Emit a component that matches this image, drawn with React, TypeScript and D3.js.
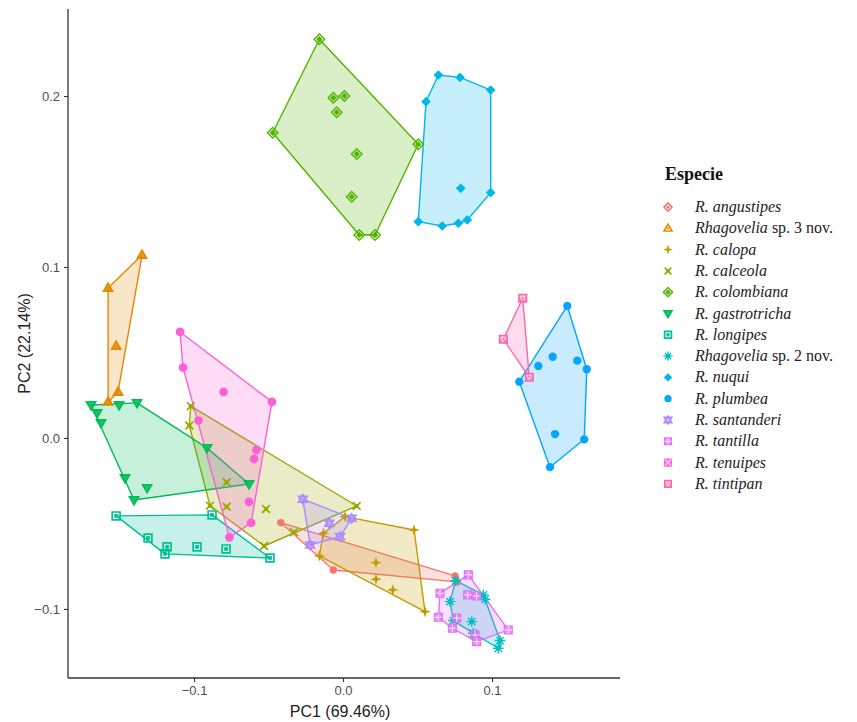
import React, { useRef, useEffect } from 'react';
import * as d3 from 'd3';

type Pt = [number, number];

// PCA scores per species
const angustipes: Pt[] = [[-0.0418, -0.0495], [-0.0065, -0.0772], [0.0752, -0.0807], [0.0765, -0.0842]];
const sp3nov: Pt[] = [[-0.1349, 0.107], [-0.1577, 0.0877], [-0.1523, 0.0538], [-0.151, 0.0269], [-0.1577, 0.0211]];
const calopa: Pt[] = [[0.0013, -0.046], [0.0477, -0.0538], [-0.0132, -0.0557], [-0.0159, -0.069], [0.0221, -0.0729], [0.0221, -0.0826], [0.0334, -0.0889], [0.055, -0.1016]];
const calceola: Pt[] = [[-0.1022, 0.0186], [-0.1032, 0.0073], [-0.0781, -0.0259], [-0.0893, -0.0396], [-0.0781, -0.0402], [-0.0517, -0.0415], [-0.053, -0.0632], [-0.0329, -0.0551], [0.0092, -0.0398]];
const colombiana: Pt[] = [[-0.0159, 0.2332], [-0.0065, 0.199], [0.0009, 0.2], [-0.0042, 0.1905], [-0.0472, 0.1785], [0.0505, 0.1718], [0.0092, 0.1661], [0.0058, 0.1411], [0.0109, 0.1187], [0.0215, 0.1187]];
const gastrotricha: Pt[] = [[-0.1691, 0.0193], [-0.1651, 0.0146], [-0.1624, 0.0088], [-0.1503, 0.0193], [-0.1383, 0.0205], [-0.1463, -0.0234], [-0.1315, -0.0292], [-0.1403, -0.0363], [-0.0913, -0.0058], [-0.0631, -0.0269]];
const longipes: Pt[] = [[-0.1523, -0.0456], [-0.0879, -0.045], [-0.1309, -0.0585], [-0.1181, -0.0637], [-0.098, -0.0637], [-0.0785, -0.0649], [-0.1195, -0.0678], [-0.049, -0.0702]];
const sp2nov: Pt[] = [[0.0756, -0.0835], [0.0718, -0.0957], [0.0942, -0.0918], [0.0953, -0.0943], [0.074, -0.1068], [0.0864, -0.1074], [0.0874, -0.1142], [0.1054, -0.1185], [0.1042, -0.123]];
const nuqui: Pt[] = [[0.064, 0.2123], [0.0785, 0.2109], [0.0991, 0.2035], [0.0557, 0.1967], [0.079, 0.146], [0.0991, 0.1435], [0.0505, 0.1265], [0.0666, 0.124], [0.0774, 0.1256], [0.0834, 0.1275]];
const plumbea: Pt[] = [[0.1505, 0.0772], [0.1407, 0.0475], [0.1572, 0.0452], [0.1311, 0.0421], [0.1636, 0.0402], [0.1183, 0.0329], [0.1423, 0.0023], [0.1619, -0.0008], [0.1389, -0.0171]];
const santanderi: Pt[] = [[-0.027, -0.0358], [0.0058, -0.047], [-0.0092, -0.0499], [-0.002, -0.0577], [-0.0221, -0.0626]];
const tantilla: Pt[] = [[0.0841, -0.0801], [0.0651, -0.0908], [0.0837, -0.0918], [0.0897, -0.0924], [0.064, -0.1049], [0.0734, -0.1113], [0.0763, -0.1054], [0.0886, -0.1152], [0.0897, -0.1191], [0.1109, -0.1123]];
const tenuipes: Pt[] = [[-0.1094, 0.062], [-0.1074, 0.0412], [-0.0802, 0.0269], [-0.0477, 0.0211], [-0.097, 0.0102], [-0.0581, -0.007], [-0.0597, -0.0123], [-0.0631, -0.0374], [-0.0617, -0.0497], [-0.0762, -0.0582]];
const tintipan: Pt[] = [[0.1206, 0.0817], [0.1076, 0.0577], [0.125, 0.0355]];

const seriesPoints: Pt[][] = [angustipes, sp3nov, calopa, calceola, colombiana, gastrotricha, longipes, sp2nov, nuqui, plumbea, santanderi, tantilla, tenuipes, tintipan];

// legend labels: [italic part, upright part]
const speciesLabels: [string, string][] = [
  ['R. angustipes', ''],
  ['Rhagovelia', ' sp. 3 nov.'],
  ['R. calopa', ''],
  ['R. calceola', ''],
  ['R. colombiana', ''],
  ['R. gastrotricha', ''],
  ['R. longipes', ''],
  ['Rhagovelia', ' sp. 2 nov.'],
  ['R. nuqui', ''],
  ['R. plumbea', ''],
  ['R. santanderi', ''],
  ['R. tantilla', ''],
  ['R. tenuipes', ''],
  ['R. tintipan', ''],
];

const speciesColors = ['#F8766D', '#E38900', '#C49A00', '#99A800', '#53B400', '#00BC56', '#00C094', '#00BFC4', '#00B6EB', '#06A4FF', '#A58AFF', '#DF70F8', '#FB61D7', '#FF66A8'];
const speciesShapes = ['diamondDot', 'triangle', 'star4', 'cross', 'diamond', 'triangleDown', 'square', 'asterisk', 'diamondFill', 'circle', 'star6', 'squarePlus', 'squareX', 'squareTri'];

const xTicks = [-0.1, 0.0, 0.1];
const yTicks = [-0.1, 0.0, 0.1, 0.2];

const W = 857;
const H = 722;
const panel = { left: 68, right: 620, top: 9, bottom: 678 };

const drawMarker = (g: any, shape: string, color: string, r: number, inPlot: boolean) => {
  const d = (p: string) => g.append('path').attr('d', p);
  const tri = (s: number, dir: number) => `M0,${-s * dir}L${s * 0.95},${s * 0.65 * dir}L${-s * 0.95},${s * 0.65 * dir}Z`;
  const sq = (s: number) => `M${-s},${-s}H${s}V${s}H${-s}Z`;
  const dia = (s: number) => `M0,${-s}L${s},0L0,${s}L${-s},0Z`;
  switch (shape) {
    case 'diamondDot':
      if (inPlot) {
        g.append('circle').attr('r', r * 0.8).attr('fill', color);
      } else {
        d(dia(r)).attr('fill', 'none').attr('stroke', color).attr('stroke-width', 1.6);
        g.append('circle').attr('r', r * 0.4).attr('fill', color);
      }
      break;
    case 'triangle':
      d(tri(r * 1.05, 1)).attr('fill', inPlot ? color : 'none').attr('fill-opacity', 0.85).attr('stroke', color).attr('stroke-width', 1.6);
      if (!inPlot) d(tri(r * 0.4, 1)).attr('fill', color);
      break;
    case 'triangleDown':
      d(tri(r * 1.05, -1)).attr('fill', color).attr('fill-opacity', 0.85).attr('stroke', color).attr('stroke-width', 1.6);
      break;
    case 'star4': {
      const k = r * 0.3;
      const s = r * 1.25;
      d(`M0,${-s}L${k},${-k}L${s},0L${k},${k}L0,${s}L${-k},${k}L${-s},0L${-k},${-k}Z`).attr('fill', color);
      break;
    }
    case 'cross':
      d(`M${-r * 0.85},${-r * 0.85}L${r * 0.85},${r * 0.85}M${r * 0.85},${-r * 0.85}L${-r * 0.85},${r * 0.85}`).attr('stroke', color).attr('stroke-width', 1.7);
      d(dia(r * 0.55)).attr('fill', color);
      break;
    case 'diamond':
      d(dia(r * 1.15)).attr('fill', 'none').attr('stroke', color).attr('stroke-width', 1.4);
      d(dia(r * 0.7)).attr('fill', color);
      break;
    case 'square':
      d(sq(r * 0.85)).attr('fill', 'none').attr('stroke', color).attr('stroke-width', 1.7);
      d(sq(r * 0.4)).attr('fill', color);
      break;
    case 'asterisk':
      d(`M0,${-r * 1.15}V${r * 1.15}M${-r * 1.15},0H${r * 1.15}M${-r * 0.8},${-r * 0.8}L${r * 0.8},${r * 0.8}M${r * 0.8},${-r * 0.8}L${-r * 0.8},${r * 0.8}`).attr('stroke', color).attr('stroke-width', 1.4);
      g.append('circle').attr('r', r * 0.55).attr('fill', color);
      break;
    case 'diamondFill':
      d(dia(r * 1.05)).attr('fill', color);
      break;
    case 'circle':
      g.append('circle').attr('r', r * 0.9).attr('fill', color);
      break;
    case 'star6':
      d(tri(r * 1.05, 1)).attr('fill', color).attr('fill-opacity', 0.35).attr('stroke', color).attr('stroke-width', 1.3);
      d(tri(r * 1.05, -1)).attr('fill', color).attr('fill-opacity', 0.35).attr('stroke', color).attr('stroke-width', 1.3);
      break;
    case 'squarePlus':
      d(sq(r * 0.85)).attr('fill', color).attr('fill-opacity', 0.75).attr('stroke', color).attr('stroke-width', 1.3);
      d(`M0,${-r * 0.85}V${r * 0.85}M${-r * 0.85},0H${r * 0.85}`).attr('stroke', '#fff').attr('stroke-width', 0.8);
      break;
    case 'squareX':
      if (inPlot) {
        g.append('circle').attr('r', r * 0.95).attr('fill', color);
      } else {
        d(sq(r * 0.85)).attr('fill', color).attr('fill-opacity', 0.8).attr('stroke', color).attr('stroke-width', 1.3);
        d(`M${-r * 0.85},${-r * 0.85}L${r * 0.85},${r * 0.85}M${r * 0.85},${-r * 0.85}L${-r * 0.85},${r * 0.85}`).attr('stroke', '#fff').attr('stroke-width', 0.8);
      }
      break;
    case 'squareTri':
      d(sq(r * 0.85)).attr('fill', color).attr('fill-opacity', 0.75).attr('stroke', color).attr('stroke-width', 1.3);
      d(`M0,${r * 0.5}L${r * 0.5},${-r * 0.45}L${-r * 0.5},${-r * 0.45}Z`).attr('fill', 'none').attr('stroke', '#fff').attr('stroke-width', 0.8);
      break;
    default:
      break;
  }
};

const App = () => {
  const svgRef = useRef<SVGSVGElement>(null);

  useEffect(() => {
    const svg = d3.select(svgRef.current);
    svg.selectAll('*').remove();

    const x = d3.scaleLinear().domain([-0.1846, 0.1859]).range([panel.left, panel.right]);
    const y = d3.scaleLinear().domain([-0.1404, 0.2509]).range([panel.bottom, panel.top]);

    const sans = '"Liberation Sans", Arial, sans-serif';
    const serif = '"Liberation Serif", "Times New Roman", serif';

    // convex hulls
    const hullG = svg.append('g');
    seriesPoints.forEach((pts, i) => {
      const px = pts.map(p => [x(p[0]), y(p[1])] as [number, number]);
      const hull = d3.polygonHull(px);
      if (!hull) return;
      hullG.append('path')
        .attr('d', d3.line()(hull) + 'Z')
        .attr('fill', speciesColors[i])
        .attr('fill-opacity', 0.22)
        .attr('stroke', speciesColors[i])
        .attr('stroke-width', 1.4)
        .attr('stroke-linejoin', 'round');
    });

    // points
    const ptG = svg.append('g');
    seriesPoints.forEach((pts, i) => {
      pts.forEach(p => {
        const g = ptG.append('g').attr('transform', `translate(${x(p[0])},${y(p[1])})`);
        drawMarker(g, speciesShapes[i], speciesColors[i], 4.6, true);
      });
    });

    // axes
    const xAxis = svg.append('g').attr('transform', `translate(0,${panel.bottom})`)
      .call(d3.axisBottom(x).tickValues(xTicks).tickSize(4).tickPadding(4).tickFormat(d3.format('.1f')));
    const yAxis = svg.append('g').attr('transform', `translate(${panel.left},0)`)
      .call(d3.axisLeft(y).tickValues(yTicks).tickSize(4).tickPadding(4).tickFormat(d3.format('.1f')));
    [xAxis, yAxis].forEach(ax => {
      ax.select('.domain').attr('stroke', '#333').attr('stroke-width', 1.3);
      ax.selectAll('.tick line').attr('stroke', '#333').attr('stroke-width', 1.1);
      ax.selectAll('.tick text').attr('fill', '#4D4D4D').style('font-family', sans).style('font-size', '13px');
    });
    xAxis.select('.domain').attr('d', `M${panel.left},0H${panel.right}`);
    yAxis.select('.domain').attr('d', `M0,${panel.top}V${panel.bottom}`);

    svg.append('text')
      .attr('x', (panel.left + panel.right) / 2 - 4)
      .attr('y', 717)
      .attr('text-anchor', 'middle')
      .style('font-family', sans)
      .style('font-size', '16px')
      .attr('fill', '#222')
      .text('PC1 (69.46%)');

    svg.append('text')
      .attr('transform', `translate(30,${(panel.top + panel.bottom) / 2}) rotate(-90)`)
      .attr('text-anchor', 'middle')
      .style('font-family', sans)
      .style('font-size', '16px')
      .attr('fill', '#222')
      .text('PC2 (22.14%)');

    // legend
    const leg = svg.append('g');
    leg.append('text')
      .attr('x', 665)
      .attr('y', 180)
      .style('font-family', serif)
      .style('font-size', '18px')
      .style('font-weight', 'bold')
      .attr('fill', '#111')
      .text('Especie');

    speciesLabels.forEach((lab, i) => {
      const cy = 207 + i * 21.3;
      const g = leg.append('g').attr('transform', `translate(668,${cy})`);
      drawMarker(g, speciesShapes[i], speciesColors[i], 4, false);
      const t = leg.append('text')
        .attr('x', 695)
        .attr('y', cy + 5)
        .style('font-family', serif)
        .style('font-size', '16px')
        .attr('fill', '#222');
      t.append('tspan').style('font-style', 'italic').text(lab[0]);
      if (lab[1]) t.append('tspan').style('font-style', 'normal').text(lab[1]);
    });
  }, []);

  return (
    <div style={{ position: 'absolute', left: 0, top: 0 }}>
      <svg ref={svgRef} width={W} height={H} style={{ display: 'block', background: '#fff' }} />
    </div>
  );
};

export default App;
